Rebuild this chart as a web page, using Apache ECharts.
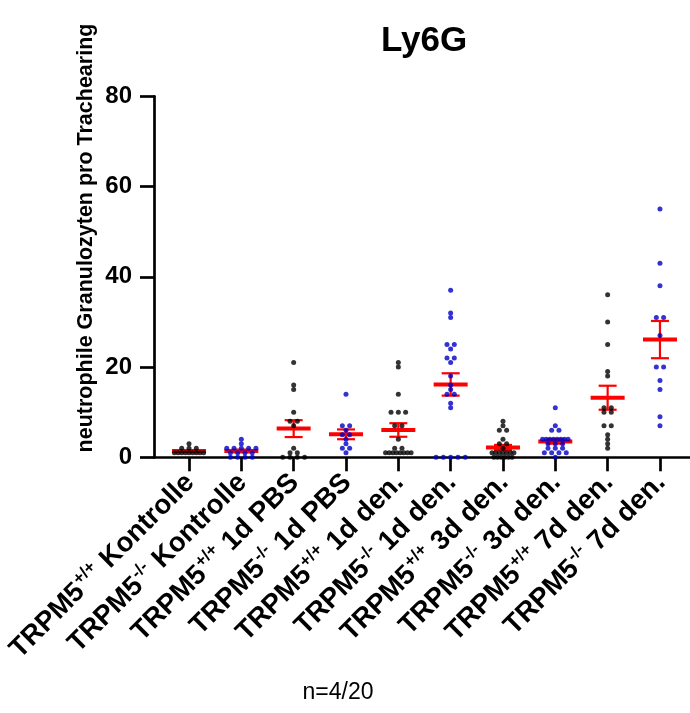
<!DOCTYPE html>
<html>
<head>
<meta charset="utf-8">
<script src="https://cdn.jsdelivr.net/npm/echarts@6/dist/echarts.min.js"></script>
<style>
html,body{margin:0;padding:0;background:#fff;}
#chart{width:690px;height:713px;}
</style>
</head>
<body>
<div id="chart"></div>
<script>
// ---- data ----
const genotypes = ['+/+', '-/-', '+/+', '-/-', '+/+', '-/-', '+/+', '-/-', '+/+', '-/-'];
const conditions = ['Kontrolle', 'Kontrolle', '1d PBS', '1d PBS', '1d den.', '1d den.', '3d den.', '3d den.', '7d den.', '7d den.'];
const yTicks = [0, 20, 40, 60, 80];

const g0 = [1,1,1,1,1,1,1,1,1,2,2,2,3];
const g1 = [0,0,0,0,1,1,1,1,2,2,2,2,2,3,4];
const g2 = [21,16,15,10,8,8,7,2,1,1,0,0,0,0];
const g3 = [14,7,7,6,5,5,4,3,2,2,1];
const g4 = [21,20,14,10,10,10,7,7,4,2,2,1,1,1,1,1,1,1,1];
const g5 = [37,32,31,25,25,24,22,22,21,18,16,15,14,14,12,11,0,0,0,0,0];
const g6 = [8,7,6,6,4,3,3,2,1,1,1,1,1,1,1,0,0,0,0,0,0];
const g7 = [11,7,6,6,4,4,4,4,4,4,4,4,3,3,3,2,2,2,1,1,1,1,0];
const g8 = [36,30,25,19,18,11,11,10,10,7,7,5,4,3,2];
const g9 = [55,43,38,31,31,27,20,20,17,15,9,7];
const groups = [g0,g1,g2,g3,g4,g5,g6,g7,g8,g9];

// ---- styling / layout ----
const BLACK = '#000000', BLUE = '#0000c8', RED = '#ff0000';
const groupColors = groups.map((g, i) => i % 2 === 0 ? BLACK : BLUE);
const FONT = "'Liberation Sans', Arial, sans-serif";
const X_MIN = -0.669, X_MAX = 9.574;
const GRID_LEFT = 154, GRID_RIGHT = 0, GRID_TOP = 96.3, GRID_BOTTOM = 255.7;
const plotW = 690 - GRID_LEFT - GRID_RIGHT;
const pxPerUnit = plotW / (X_MAX - X_MIN);

// horizontal spread of points with equal values (scatter dot plot layout)
function spread(values) {
  const rows = {};
  values.forEach(v => { (rows[v] = rows[v] || []).push(v); });
  const out = [];
  Object.keys(rows).forEach(k => {
    const n = rows[k].length;
    let s = 7.3;
    if ((n - 1) * s > 33) s = 3.65;
    if ((n - 1) * s > 33) s = 33 / (n - 1);
    for (let j = 0; j < n; j++) {
      out.push({ off: (j - (n - 1) / 2) * s / pxPerUnit, v: Number(k) });
    }
  });
  return out;
}

function meanSem(a) {
  const n = a.length;
  const m = a.reduce((p, c) => p + c, 0) / n;
  const sd = Math.sqrt(a.reduce((p, c) => p + (c - m) * (c - m), 0) / (n - 1));
  return [m, sd / Math.sqrt(n)];
}

const statsData = groups.map((g, i) => { const r = meanSem(g); return [i, r[0], r[1]]; });

const series = [{
  type: 'custom',
  clip: false,
  z: 2,
  data: statsData,
  renderItem: function (params, api) {
    const i = api.value(0), m = api.value(1), s = api.value(2);
    const c = api.coord([i, m]);
    const t = api.coord([i, m + s]);
    const b = api.coord([i, m - s]);
    return {
      type: 'group',
      children: [
        { type: 'line', shape: { x1: c[0], y1: t[1], x2: c[0], y2: b[1] }, style: { stroke: RED, lineWidth: 2.2 } },
        { type: 'line', shape: { x1: c[0] - 9, y1: t[1], x2: c[0] + 9, y2: t[1] }, style: { stroke: RED, lineWidth: 2.2 } },
        { type: 'line', shape: { x1: c[0] - 9, y1: b[1], x2: c[0] + 9, y2: b[1] }, style: { stroke: RED, lineWidth: 2.2 } },
        { type: 'rect', shape: { x: c[0] - 17, y: c[1] - 2, width: 34, height: 4 }, style: { fill: RED } }
      ]
    };
  }
}];

groups.forEach((g, i) => {
  series.push({
    type: 'scatter',
    z: 3,
    symbol: 'circle',
    symbolSize: 5,
    itemStyle: { color: groupColors[i] },
    silent: true,
    clip: false,
    data: spread(g).map(p => [i + p.off, p.v])
  });
});

const chart = echarts.init(document.getElementById('chart'), null, { renderer: 'canvas' });
chart.setOption({
  animation: false,
  backgroundColor: '#ffffff',
  title: [{
    text: 'Ly6G',
    left: 419, top: 19, textAlign: 'center',
    textStyle: { fontFamily: FONT, fontWeight: 'bold', fontSize: 35, color: '#000' }
  }, {
    text: 'n=4/20',
    left: 333, top: 676, textAlign: 'center',
    textStyle: { fontFamily: FONT, fontWeight: 'normal', fontSize: 23, color: '#000' }
  }],
  graphic: [{
    type: 'text',
    x: 86, y: 238,
    rotation: Math.PI / 2,
    style: {
      text: 'neutrophile Granulozyten pro Trachearing',
      font: "bold 21.5px 'Liberation Sans', Arial, sans-serif",
      fill: '#000',
      align: 'center',
      verticalAlign: 'middle'
    }
  }],
  grid: { left: GRID_LEFT, right: GRID_RIGHT, top: GRID_TOP, bottom: GRID_BOTTOM, containLabel: false },
  xAxis: {
    type: 'value',
    min: X_MIN, max: X_MAX,
    splitLine: { show: false },
    axisLine: { show: true, onZero: false, lineStyle: { color: '#000', width: 2.7 } },
    axisTick: { show: true, customValues: genotypes.map((g, i) => i), length: 14, lineStyle: { color: '#000', width: 2.7 } },
    axisLabel: {
      show: true,
      customValues: genotypes.map((g, i) => i),
      rotate: 45,
      margin: 20,
      fontFamily: FONT,
      formatter: function (val) {
        const i = Math.round(val);
        return '{m|TRPM5}{s|' + genotypes[i] + '}{m| ' + conditions[i] + '}';
      },
      rich: {
        m: { fontFamily: FONT, fontWeight: 'bold', fontSize: 27.5, color: '#000', verticalAlign: 'bottom', lineHeight: 31 },
        s: { fontFamily: FONT, fontWeight: 'bold', fontSize: 17, color: '#000', verticalAlign: 'bottom', lineHeight: 17, padding: [0, 1, 13, 1] }
      }
    }
  },
  yAxis: {
    type: 'value',
    min: 0, max: 80, interval: 20,
    splitLine: { show: false },
    axisLine: { show: true, onZero: false, lineStyle: { color: '#000', width: 2.7 } },
    axisTick: { show: true, length: 14, lineStyle: { color: '#000', width: 2.7 } },
    axisLabel: {
      fontFamily: FONT, fontWeight: 'bold', fontSize: 24, color: '#000', margin: 22,
      customValues: yTicks
    }
  },
  series: series
});
</script>
</body>
</html>
